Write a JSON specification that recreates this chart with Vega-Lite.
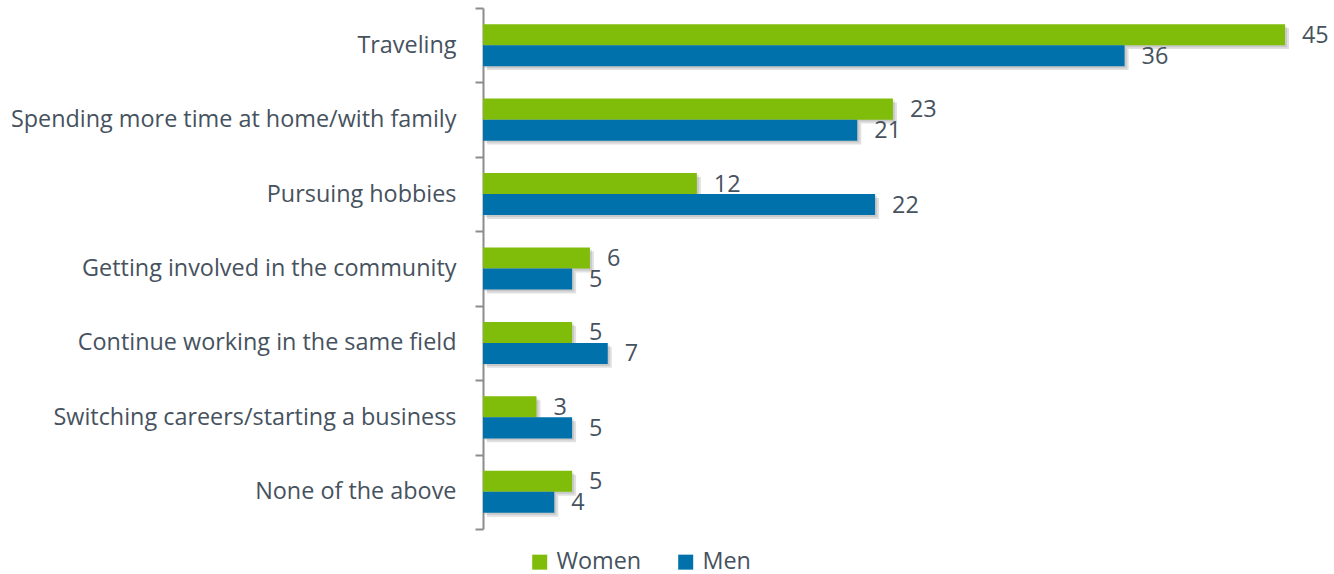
{
  "$schema": "https://vega.github.io/schema/vega-lite/v6.json",
  "width": 802,
  "height": 521,
  "autosize": {"type": "none"},
  "padding": {"left": 483, "top": 8, "right": 49, "bottom": 45},
  "background": "white",
  "config": {"view": {"stroke": null}, "font": "Open Sans"},
  "data": {
    "values": [
      {"category": "Traveling", "gender": "Women", "value": 45},
      {"category": "Traveling", "gender": "Men", "value": 36},
      {"category": "Spending more time at home/with family", "gender": "Women", "value": 23},
      {"category": "Spending more time at home/with family", "gender": "Men", "value": 21},
      {"category": "Pursuing hobbies", "gender": "Women", "value": 12},
      {"category": "Pursuing hobbies", "gender": "Men", "value": 22},
      {"category": "Getting involved in the community", "gender": "Women", "value": 6},
      {"category": "Getting involved in the community", "gender": "Men", "value": 5},
      {"category": "Continue working in the same field", "gender": "Women", "value": 5},
      {"category": "Continue working in the same field", "gender": "Men", "value": 7},
      {"category": "Switching careers/starting a business", "gender": "Women", "value": 3},
      {"category": "Switching careers/starting a business", "gender": "Men", "value": 5},
      {"category": "None of the above", "gender": "Women", "value": 5},
      {"category": "None of the above", "gender": "Men", "value": 4}
    ]
  },
  "encoding": {
    "y": {
      "field": "category",
      "type": "nominal",
      "sort": ["Traveling", "Spending more time at home/with family", "Pursuing hobbies", "Getting involved in the community", "Continue working in the same field", "Switching careers/starting a business", "None of the above"],
      "scale": {"paddingInner": 0, "paddingOuter": 0},
      "axis": {
        "title": null,
        "tickBand": "extent",
        "tickExtra": true,
        "domainColor": "#8c8c8c",
        "domainWidth": 2,
        "tickColor": "#8c8c8c",
        "tickWidth": 2,
        "tickSize": 8,
        "labelFontSize": 23.4,
        "labelColor": "#46525e",
        "labelPadding": 19,
        "labelLimit": 0,
        "labelFont": "Open Sans"
      }
    },
    "x": {
      "field": "value",
      "type": "quantitative",
      "scale": {"domain": [0, 45], "nice": false},
      "axis": null
    }
  },
  "resolve": {"scale": {"yOffset": "independent"}},
  "layer": [
    {
      "mark": {"type": "bar", "color": "#000000", "opacity": 0.12, "xOffset": 4, "x2Offset": 4},
      "encoding": {
        "yOffset": {
          "field": "gender",
          "type": "nominal",
          "sort": ["Women", "Men"],
          "scale": {"paddingOuter": 0.77, "paddingInner": 0, "align": 0.62}
        }
      }
    },
    {
      "mark": {"type": "bar", "color": "#000000", "opacity": 0.1, "xOffset": 2, "x2Offset": 2},
      "encoding": {
        "yOffset": {
          "field": "gender",
          "type": "nominal",
          "sort": ["Women", "Men"],
          "scale": {"paddingOuter": 0.77, "paddingInner": 0, "align": 0.56}
        }
      }
    },
    {
      "encoding": {
        "yOffset": {
          "field": "gender",
          "type": "nominal",
          "sort": ["Women", "Men"],
          "scale": {"paddingOuter": 0.77, "paddingInner": 0}
        }
      },
      "layer": [
        {
          "mark": {"type": "bar"},
          "encoding": {
            "color": {
              "field": "gender",
              "type": "nominal",
              "scale": {"domain": ["Women", "Men"], "range": ["#80bd0a", "#0071ab"]},
              "legend": {
                "orient": "none",
                "legendX": 45,
                "legendY": 542,
                "direction": "horizontal",
                "title": null,
                "symbolType": "square",
                "symbolSize": 225,
                "symbolStrokeWidth": 0,
                "symbolOpacity": 1,
                "labelFontSize": 23.4,
                "labelColor": "#46525e",
                "labelFont": "Open Sans",
                "labelOffset": 5,
                "columnPadding": 32
              }
            }
          }
        },
        {
          "mark": {"type": "text", "align": "left", "baseline": "middle", "dx": 17, "dy": 1, "fontSize": 23.4, "color": "#46525e", "font": "Open Sans"},
          "encoding": {"text": {"field": "value", "type": "quantitative"}}
        }
      ]
    }
  ]
}
